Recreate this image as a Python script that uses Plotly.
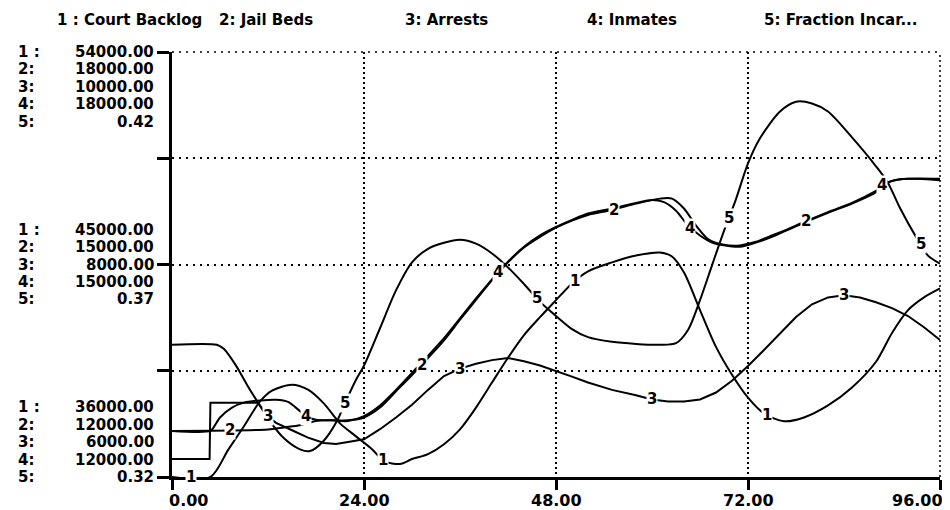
import numpy as np
import plotly.graph_objects as go

# ---------------------------------------------------------------- data
names = ["Court Backlog", "Jail Beds", "Arrests", "Inmates", "Fraction Incar..."]

# scale for each series (bottom, top)
y_lo = [36000, 12000, 6000, 12000, 0.32]
y_hi = [54000, 18000, 10000, 18000, 0.42]

x_ticks = [0, 24, 48, 72, 96]

t_backlog = [0, 4.8, 7, 9, 11, 12.5, 15, 17, 19, 21, 23, 25, 26.5, 28.5, 30, 32, 34, 36,
             38, 40, 42, 44, 46, 48, 50, 52, 55, 58, 61, 62.5, 64, 66, 68, 70, 72, 74,
             76.5, 79, 82, 85, 88, 90, 92, 94, 96]
backlog = [36000, 36000, 37140, 38150, 39200, 39660, 39910, 39700, 39110, 38270, 37720,
           37180, 36670, 36550, 36760, 36970, 37390, 38020, 38940, 40000, 41050, 42010,
           42770, 43490, 44200, 44710, 45090, 45380, 45510, 45340, 44660, 43070, 41510,
           40330, 39360, 38690, 38360, 38520, 39030, 39790, 40880, 42100, 43070, 43610,
           43990]

t_beds = [0, 12, 14, 16, 18, 20, 22, 24, 26, 28, 30, 32, 34, 36, 38, 40, 42, 44, 46, 48,
          50, 52, 55, 58, 61, 62.5, 64, 65.5, 67, 69, 71, 73, 75, 77, 79, 82, 85, 88, 90,
          92, 96]
beds = [12650, 12670, 12700, 12730, 12790, 12800, 12800, 12840, 12980, 13210, 13440,
        13680, 13930, 14220, 14500, 14780, 15030, 15240, 15390, 15520, 15620, 15700,
        15770, 15860, 15930, 15930, 15790, 15550, 15360, 15280, 15270, 15320, 15410,
        15500, 15600, 15740, 15870, 16040, 16180, 16210, 16190]

t_arrests = [0, 4.7, 4.8, 10.75, 12, 13, 15, 17, 19, 20.5, 22, 24, 26, 28, 30, 32, 34,
             36, 38, 40, 42, 44, 46, 48, 50, 52, 55, 58, 60, 62, 64, 66, 68, 70, 72, 74,
             76, 78, 80, 82, 84, 86, 88, 90, 92, 94, 96]
arrests = [6170, 6170, 6700, 6700, 6570, 6510, 6440, 6370, 6320, 6310, 6330, 6355, 6450,
           6560, 6680, 6820, 6950, 7020, 7065, 7100, 7120, 7090, 7050, 7000, 6945, 6890,
           6820, 6770, 6730, 6710, 6710, 6730, 6795, 6905, 7045, 7195, 7355, 7505, 7625,
           7690, 7710, 7690, 7645, 7590, 7515, 7410, 7290]

t_inmates = [0, 4.8, 5.2, 6, 7.5, 9, 11, 13, 14.5, 16, 17, 18, 20, 22, 24, 26, 28, 30,
             32, 34, 36, 38, 40, 42, 44, 46, 48, 50, 52, 55, 58, 60, 61.5, 63, 64.5, 66,
             67.5, 69, 71, 73, 75, 77, 79, 82, 85, 88, 89, 90, 92, 96]
inmates = [12650, 12650, 12700, 12840, 12980, 13050, 13080, 13090, 13060, 12930, 12840,
           12810, 12800, 12790, 12860, 13010, 13230, 13470, 13710, 13960, 14240, 14520,
           14790, 15040, 15250, 15410, 15530, 15630, 15720, 15790, 15870, 15910, 15880,
           15760, 15550, 15410, 15310, 15270, 15250, 15310, 15390, 15490, 15590, 15730,
           15860, 16020, 16140, 16180, 16210, 16210]

t_fraction = [0, 5.6, 6.5, 8, 9.5, 10.75, 12.25, 14, 16, 17.25, 19, 20.6, 21.6, 23, 24,
              26, 28, 30, 32, 34, 36, 38, 40, 42, 44, 46, 48, 50, 52, 55, 58, 61, 63,
              64.5, 66, 67.5, 69, 70.5, 72, 73.5, 76, 78, 80, 82, 85, 88, 89.5, 91, 93,
              94.5, 96]
fraction = [0.3511, 0.3511, 0.3501, 0.3462, 0.3413, 0.3375, 0.3331, 0.3291, 0.3265,
            0.3261, 0.3286, 0.3331, 0.3373, 0.3429, 0.3462, 0.3550, 0.3639, 0.3705,
            0.3737, 0.3751, 0.3758, 0.3749, 0.3726, 0.3693, 0.3654, 0.3612, 0.3579,
            0.3548, 0.3529, 0.3518, 0.3513, 0.3511, 0.3515, 0.3546, 0.3616, 0.3698,
            0.3779, 0.3854, 0.3938, 0.3997, 0.4060, 0.4083, 0.4079, 0.4060, 0.3999,
            0.3931, 0.3892, 0.3833, 0.3765, 0.3721, 0.3702]

series = [(t_backlog, backlog), (t_beds, beds), (t_arrests, arrests),
          (t_inmates, inmates), (t_fraction, fraction)]

FONT = "DejaVu Sans"
ROW = 17.4  # px between rows of the scale labels
bold = lambda size: dict(family=FONT, size=size, color="black", weight="bold")

fig = go.Figure()

for i, (ts, vs) in enumerate(series):
    fig.add_trace(go.Scatter(
        x=ts, y=vs, mode="lines",
        line=dict(color="black", width=2,
                  shape="linear" if i == 2 else "spline", smoothing=0.8),
        yaxis="y" if i == 0 else f"y{i + 1}",
        hoverinfo="skip", showlegend=False,
    ))

# numbered labels along every curve, STELLA style
for i, (ts, vs) in enumerate(series):
    for j in range(4):
        tl = 2.4 + 4.8 * i + 24 * j
        fig.add_annotation(
            x=tl, y=float(np.interp(tl, ts, vs)),
            xref="x", yref="y" if i == 0 else f"y{i + 1}",
            text=str(i + 1), showarrow=False, bgcolor="white", borderpad=0,
            font=dict(family=FONT, size=15, color="black", weight=600),
        )

# legend row across the top
legend_x = [55, 217, 403, 585, 762]
for i, name in enumerate(names):
    sep = " : " if i == 0 else ": "
    fig.add_annotation(
        x=0, y=1, xref="paper", yref="paper", xanchor="left", yanchor="middle",
        xshift=legend_x[i] - 172, yshift=32,
        text=f"{i + 1}{sep}{name}", showarrow=False, font=bold(15),
    )

# scale labels on the left: top, middle, bottom groups
for g, frac in enumerate([1.0, 0.5, 0.0]):
    for k in range(5):
        val = y_lo[k] + frac * (y_hi[k] - y_lo[k])
        shift = {0: -k * ROW, 1: (2 - k) * ROW, 2: (4 - k) * ROW}[g]
        fig.add_annotation(
            x=0, y=frac, xref="paper", yref="paper", xanchor="left", yanchor="middle",
            xshift=-156, yshift=shift, text=f"{k + 1} :" if k == 0 else f"{k + 1}:",
            showarrow=False, font=bold(15),
        )
        fig.add_annotation(
            x=0, y=frac, xref="paper", yref="paper", xanchor="right", yanchor="middle",
            xshift=-16, yshift=shift, text=f"{val:.2f}", showarrow=False,
            font=bold(15),
        )

# time labels under the axis
for n, tv in enumerate(x_ticks):
    anchor = "left" if n == 0 else ("right" if n == len(x_ticks) - 1 else "center")
    fig.add_annotation(
        x=tv, y=0, xref="x", yref="paper", xanchor=anchor, yanchor="top",
        xshift=-5 if n == 0 else (5 if anchor == "right" else 0), yshift=-12,
        text=f"{tv:.2f}", showarrow=False, font=bold(16),
    )

# dotted frame along the top and right edges
dots = dict(color="black", width=1.5)
fig.add_shape(type="line", xref="paper", yref="paper", x0=0, x1=1, y0=1, y1=1,
              line=dict(dash="2px,5px", **dots), layer="below")
fig.add_shape(type="line", xref="paper", yref="paper", x0=1, x1=1, y0=0, y1=1,
              line=dict(dash="2px,3px", **dots), layer="below")

axis_common = dict(showticklabels=False, zeroline=False, fixedrange=True)
lo, hi = y_lo[0], y_hi[0]
# the page body has an 8px margin, so the figure is sized 8px smaller
fig.update_layout(
    width=942, height=502,
    margin=dict(l=164, r=10, t=44, b=33),
    paper_bgcolor="white", plot_bgcolor="white",
    showlegend=False,
    xaxis=dict(range=[0, 96], tickvals=x_ticks, ticks="outside", ticklen=10,
               tickwidth=3, tickcolor="black", showline=True, linewidth=3,
               linecolor="black", showgrid=True, gridcolor="black", gridwidth=1.5,
               griddash="2px,3px", **axis_common),
    yaxis=dict(range=[lo, hi], tickvals=[lo + f * (hi - lo) for f in (0, .25, .5, .75, 1)],
               ticks="outside", ticklen=12, tickwidth=3, tickcolor="black",
               showline=True, linewidth=3, linecolor="black", showgrid=True,
               gridcolor="black", gridwidth=1.5, griddash="2px,5px", **axis_common),
)
for i in range(1, 5):
    fig.update_layout(**{f"yaxis{i + 1}": dict(range=[y_lo[i], y_hi[i]], overlaying="y",
                                                visible=False, **axis_common)})

fig.write_html("out.html")
